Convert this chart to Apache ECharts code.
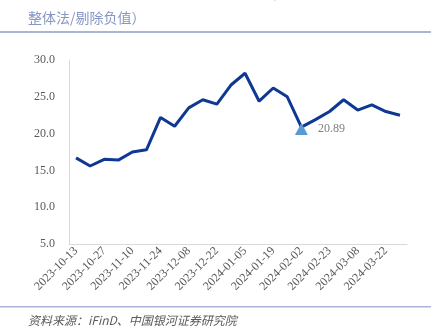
<!DOCTYPE html>
<html><head><meta charset="utf-8">
<script src="https://cdn.jsdelivr.net/npm/echarts@6/dist/echarts.min.js"></script>
<style>html,body{margin:0;padding:0;background:#fff;}#c{width:439px;height:329px;}</style>
</head><body><div id="c"></div>
<script>
const categories = ['2023-10-13','2023-10-20','2023-10-27','2023-11-03','2023-11-10','2023-11-17','2023-11-24','2023-12-01','2023-12-08','2023-12-15','2023-12-22','2023-12-29','2024-01-05','2024-01-12','2024-01-19','2024-01-26','2024-02-02','2024-02-08','2024-02-23','2024-03-01','2024-03-08','2024-03-15','2024-03-22','2024-03-29'];
const peValues = [16.7,15.6,16.5,16.4,17.5,17.8,22.2,21.0,23.5,24.6,24.0,26.6,28.2,24.4,26.2,25.0,20.89,21.9,23.0,24.6,23.2,23.9,23.0,22.5];
const markIndex = 16;
const yTicks = {min: 5, max: 30, interval: 5};
const titleLine1 = '图5：创业板指数市盈率（TTM，整体法/剔除负值，截至2024年3月29日，倍，';
const titleLine2 = '整体法/剔除负值）';
const sourceText = '资料来源：iFinD、中国银河证券研究院';

const serif = '"Liberation Serif","Noto Sans CJK SC",serif';
const chart = echarts.init(document.getElementById('c'));
chart.setOption({
  animation: false,
  backgroundColor: '#fff',
  grid: {left: 69, right: 32, top: 60, bottom: 85},
  xAxis: {
    type: 'category', data: categories, boundaryGap: true,
    axisLine: {lineStyle: {color: '#D9D9D9', width: 1}},
    axisTick: {show: false},
    axisLabel: {interval: 1, rotate: 45, color: '#595959', fontFamily: serif, fontSize: 12, margin: 5}
  },
  yAxis: {
    type: 'value', min: yTicks.min, max: yTicks.max, interval: yTicks.interval,
    axisLine: {show: true, lineStyle: {color: '#D9D9D9', width: 1}},
    axisTick: {show: false},
    splitLine: {show: false},
    axisLabel: {color: '#595959', fontFamily: serif, fontSize: 12, margin: 14, formatter: v => v.toFixed(1)}
  },
  series: [{
    type: 'line', data: peValues, symbol: 'none',
    lineStyle: {color: '#0F3893', width: 3},
    markPoint: {
      symbol: 'triangle', symbolSize: [13, 12], symbolOffset: [0, 2],
      itemStyle: {color: '#5B9BD5'},
      label: {show: true, position: 'right', distance: 10, color: '#7F7F7F', fontFamily: serif, fontSize: 12,
        formatter: p => peValues[markIndex].toFixed(2)},
      data: [{coord: [markIndex, peValues[markIndex]]}]
    }
  }],
  graphic: [
    {type: 'text', left: 28, top: -14, style: {text: titleLine1, fill: '#A9B4D8', font: '14px "Noto Sans CJK SC",sans-serif'}},
    {type: 'text', left: 28, top: 11, style: {text: titleLine2, fill: '#8796C4', font: '14px "Noto Sans CJK SC",sans-serif'}},
    {type: 'rect', shape: {x: 0, y: 31, width: 431, height: 2}, style: {fill: '#A8B5D6'}},
    {type: 'rect', shape: {x: 0, y: 306, width: 431, height: 1.5}, style: {fill: '#A8B5D6'}},
    {type: 'text', left: 28, top: 314, style: {text: sourceText, fill: '#595959', font: 'italic 12px "Noto Sans CJK SC",serif'}}
  ]
});
</script></body></html>
